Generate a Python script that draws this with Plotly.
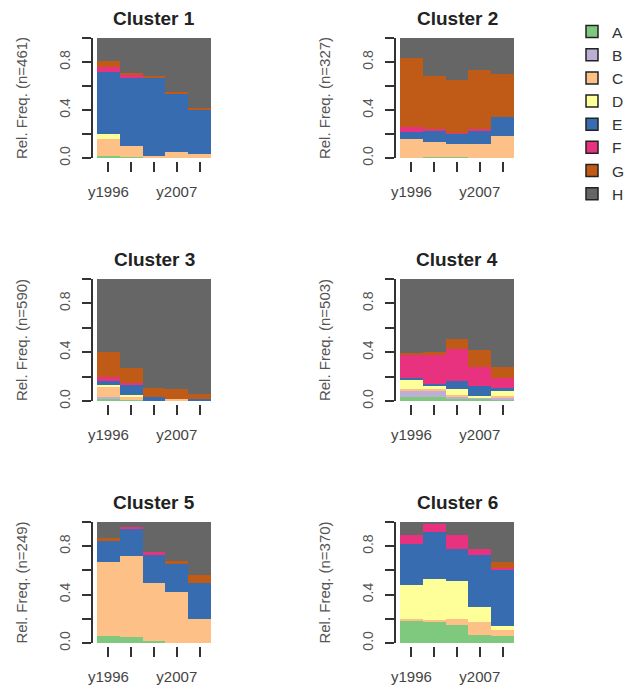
import plotly.graph_objects as go

# ---- data ----
time_points = ["y1996", "y1999", "y2003", "y2007", "y2010"]
time_labels = ["y1996", "", "", "y2007", ""]
states = ["A", "B", "C", "D", "E", "F", "G", "H"]
state_colors = ["#7FC97F", "#BEAED4", "#FDC086", "#FFFF99",
                "#386CB0", "#E8327F", "#BF5B17", "#666666"]

cluster_names = ["Cluster 1", "Cluster 2", "Cluster 3",
                 "Cluster 4", "Cluster 5", "Cluster 6"]
cluster_n = [461, 327, 590, 503, 249, 370]

# relative frequencies per state (rows A..H), per time point (columns)
cluster1 = [
    [0.02, 0.01, 0.005, 0.00, 0.00],   # A
    [0.00, 0.00, 0.00, 0.00, 0.00],    # B
    [0.14, 0.09, 0.015, 0.05, 0.03],   # C
    [0.04, 0.00, 0.00, 0.00, 0.00],    # D
    [0.52, 0.57, 0.65, 0.48, 0.37],    # E
    [0.04, 0.02, 0.00, 0.00, 0.00],    # F
    [0.05, 0.02, 0.01, 0.02, 0.02],    # G
    [0.19, 0.29, 0.32, 0.45, 0.58],    # H
]
cluster2 = [
    [0.00, 0.01, 0.01, 0.00, 0.00],
    [0.00, 0.00, 0.00, 0.00, 0.00],
    [0.16, 0.12, 0.11, 0.12, 0.18],
    [0.00, 0.00, 0.00, 0.00, 0.00],
    [0.06, 0.10, 0.08, 0.11, 0.16],
    [0.04, 0.01, 0.01, 0.01, 0.00],
    [0.57, 0.44, 0.44, 0.49, 0.36],
    [0.17, 0.32, 0.35, 0.27, 0.30],
]
cluster3 = [
    [0.02, 0.01, 0.00, 0.00, 0.00],
    [0.01, 0.00, 0.00, 0.00, 0.00],
    [0.09, 0.03, 0.00, 0.02, 0.00],
    [0.01, 0.01, 0.00, 0.00, 0.00],
    [0.03, 0.08, 0.03, 0.00, 0.02],
    [0.04, 0.02, 0.00, 0.00, 0.00],
    [0.20, 0.12, 0.08, 0.08, 0.04],
    [0.60, 0.73, 0.89, 0.90, 0.94],
]
cluster4 = [
    [0.03, 0.03, 0.02, 0.02, 0.01],
    [0.06, 0.05, 0.02, 0.01, 0.02],
    [0.01, 0.02, 0.01, 0.00, 0.01],
    [0.07, 0.03, 0.05, 0.01, 0.04],
    [0.02, 0.01, 0.06, 0.08, 0.03],
    [0.19, 0.24, 0.27, 0.16, 0.08],
    [0.01, 0.02, 0.08, 0.14, 0.09],
    [0.61, 0.60, 0.49, 0.58, 0.72],
]
cluster5 = [
    [0.06, 0.05, 0.02, 0.00, 0.00],
    [0.00, 0.00, 0.00, 0.00, 0.00],
    [0.61, 0.67, 0.48, 0.42, 0.20],
    [0.00, 0.00, 0.00, 0.00, 0.00],
    [0.17, 0.22, 0.23, 0.23, 0.30],
    [0.00, 0.02, 0.02, 0.00, 0.00],
    [0.03, 0.00, 0.00, 0.03, 0.06],
    [0.13, 0.04, 0.25, 0.32, 0.44],
]
cluster6 = [
    [0.19, 0.18, 0.15, 0.07, 0.06],
    [0.00, 0.00, 0.00, 0.00, 0.00],
    [0.01, 0.01, 0.05, 0.10, 0.05],
    [0.28, 0.34, 0.31, 0.13, 0.03],
    [0.34, 0.39, 0.27, 0.43, 0.46],
    [0.07, 0.065, 0.11, 0.05, 0.02],
    [0.00, 0.00, 0.00, 0.00, 0.05],
    [0.11, 0.015, 0.11, 0.22, 0.33],
]
clusters = [cluster1, cluster2, cluster3, cluster4, cluster5, cluster6]

# ---- layout geometry (page pixels; the page body adds an 8px offset) ----
OFF = 8
W, H = 643 - OFF, 690 - OFF
col_x = [(97, 211), (400, 514)]
row_y = [(38, 158), (279, 401), (522, 643)]


def px(x):
    return (x - OFF) / W


def py(y):
    return 1 - (y - OFF) / H


fig = go.Figure()
layout = dict(
    template="none",
    width=W, height=H,
    margin=dict(l=0, r=0, t=0, b=0, autoexpand=False),
    paper_bgcolor="white", plot_bgcolor="white",
    barmode="stack", bargap=0,
    font=dict(family="Liberation Sans, Arial, sans-serif", color="#333333"),
    showlegend=True,
    legend=dict(x=px(572), y=py(15), xanchor="left", yanchor="top",
                font=dict(size=15.5, color="#333333"),
                tracegroupgap=0, itemwidth=30, bgcolor="rgba(0,0,0,0)",
                borderwidth=0),
)
annotations = []

for k, data in enumerate(clusters):
    r, c = divmod(k, 2)
    x0, x1 = col_x[c]
    ytop, ybot = row_y[r]
    idx = "" if k == 0 else str(k + 1)
    xa, ya = "x" + idx, "y" + idx
    for s, (name, color) in enumerate(zip(states, state_colors)):
        fig.add_trace(go.Bar(
            x=time_points, y=data[s], name=name,
            marker=dict(color=color, line=dict(width=0)),
            xaxis=xa, yaxis=ya, showlegend=False, legendgroup=name,
        ))
    layout["xaxis" + idx] = dict(
        domain=[px(x0), px(x1)], anchor="free",
        position=py(ybot + 3), automargin=False,
        type="category", categoryorder="array", categoryarray=time_points,
        tickvals=time_points, ticktext=time_labels,
        ticks="outside", ticklen=10, tickcolor="#333333", tickwidth=1.5,
        showline=False, showgrid=False, zeroline=False,
        tickfont=dict(size=15, color="#444444"), ticklabelstandoff=7,
        range=[-0.5, 4.5], fixedrange=True,
    )
    layout["yaxis" + idx] = dict(
        domain=[py(ybot), py(ytop)], anchor="free",
        position=px(x0 - 5), automargin=False,
        range=[0, 1], tickvals=[0, 0.2, 0.4, 0.6, 0.8, 1.0],
        ticktext=["0.0", "", "0.4", "", "0.8", ""],
        ticks="outside", ticklen=9, tickcolor="#333333", tickwidth=1.5,
        showline=True, linecolor="#333333", linewidth=1.5,
        showgrid=False, zeroline=False, tickangle=-90,
        tickfont=dict(size=14, color="#555555"), ticklabelstandoff=7,
        title=dict(text=f"Rel. Freq. (n={cluster_n[k]})",
                   font=dict(size=15, color="#555555"), standoff=24),
        fixedrange=True,
    )
    annotations.append(dict(
        text=f"<b>{cluster_names[k]}</b>", x=px((x0 + x1) / 2),
        y=py(ytop - 7), xref="paper", yref="paper",
        xanchor="center", yanchor="bottom", showarrow=False,
        font=dict(size=19, color="#222222"),
    ))

# legend entries (outlined squares)
for name, color in zip(states, state_colors):
    fig.add_trace(go.Bar(
        x=[None], y=[None], name=name, legendgroup=name,
        marker=dict(color=color, line=dict(color="#222222", width=1.5)),
        showlegend=True,
    ))

layout["annotations"] = annotations
fig.update_layout(**layout)
fig.write_html("out.html")
